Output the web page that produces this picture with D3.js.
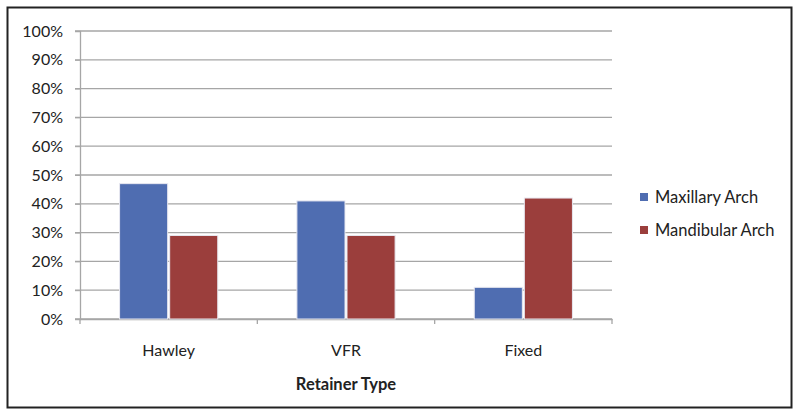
<!DOCTYPE html>
<html><head><meta charset="utf-8">
<script src="https://cdn.jsdelivr.net/npm/d3@7"></script>
<style>body{margin:0;background:#fff}svg{display:block}text{font-family:Lato,"Open Sans",sans-serif;fill:#222}</style>
</head><body><svg id="c" width="800" height="417"></svg>
<script>
const categories = ["Hawley", "VFR", "Fixed"];
const seriesNames = ["Maxillary Arch", "Mandibular Arch"];
const maxillary = [0.47, 0.41, 0.11];
const mandibular = [0.29, 0.29, 0.42];
const yTicks = [0, 0.1, 0.2, 0.3, 0.4, 0.5, 0.6, 0.7, 0.8, 0.9, 1.0];
const colors = ["#4f6db1", "#9b3e3c"];
const xTitle = "Retainer Type";

const svg = d3.select("#c");
svg.append("rect").attr("x", 7.5).attr("y", 7.5).attr("width", 784).attr("height", 400)
  .attr("fill", "#fff").attr("stroke", "#222").attr("stroke-width", 2);

const pLeft = 80, pRight = 612, pTop = 31, pBottom = 319;
const x = d3.scaleBand().domain(categories).range([pLeft, pRight]).paddingInner(0).paddingOuter(0);
const y = d3.scaleLinear().domain([0, 1]).range([pBottom, pTop]);
const xs = d3.scaleBand().domain(seriesNames).range([0, x.bandwidth()]).paddingInner(0.04).paddingOuter(0.79);

// grid
const g = svg.append("g");
g.selectAll("line.grid").data(yTicks).join("line")
  .attr("x1", pLeft - 5).attr("x2", pRight).attr("y1", d => y(d)).attr("y2", d => y(d))
  .attr("stroke", "#a6a6a6").attr("stroke-width", 1.3);

// y axis
const yAxis = svg.append("g").attr("transform", `translate(${pLeft},0)`)
  .call(d3.axisLeft(y).tickValues(yTicks).tickFormat(d3.format(".0%")).tickSize(5).tickPadding(12));
yAxis.select(".domain").attr("stroke", "#a6a6a6").attr("stroke-width", 1.3);
yAxis.selectAll(".tick line").attr("stroke", "#a6a6a6");
yAxis.selectAll("text").style("font-size", "16px").attr("fill", "#222").attr("font-family", "Lato, sans-serif");

// x axis
const xAxis = svg.append("g").attr("transform", `translate(0,${pBottom})`)
  .call(d3.axisBottom(x).tickSize(0).tickPadding(26));
xAxis.select(".domain").attr("stroke", "#a6a6a6").attr("stroke-width", 1.3);
xAxis.selectAll("text").style("font-size", "16px").attr("fill", "#222").attr("font-family", "Lato, sans-serif");
const sepTicks = [0, 1, 2, 3].map(i => pLeft + i * x.bandwidth());
xAxis.selectAll("line.sep").data(sepTicks).join("line").attr("class", "sep")
  .attr("x1", d => d).attr("x2", d => d).attr("y1", 0).attr("y2", 5)
  .attr("stroke", "#a6a6a6").attr("stroke-width", 1.3);

// bars
const data = categories.map((c, i) => ({ c, vals: [maxillary[i], mandibular[i]] }));
const bg = svg.append("g").selectAll("g").data(data).join("g")
  .attr("transform", d => `translate(${x(d.c)},0)`);
bg.selectAll("rect").data(d => d.vals.map((v, j) => ({ v, s: seriesNames[j], j }))).join("rect")
  .attr("x", d => xs(d.s)).attr("width", xs.bandwidth())
  .attr("y", d => y(d.v)).attr("height", d => y(0) - y(d.v))
  .attr("fill", d => colors[d.j]).attr("stroke", "#e8e8f0").attr("stroke-width", 1);

// x title
svg.append("text").attr("x", (pLeft + pRight) / 2).attr("y", 390).attr("text-anchor", "middle")
  .style("font-size", "16.5px").style("font-weight", "bold").text(xTitle);

// legend
const lg = svg.append("g").selectAll("g").data(seriesNames).join("g")
  .attr("transform", (d, i) => `translate(640,${197 + i * 33})`);
lg.append("rect").attr("x", 0).attr("y", -4).attr("width", 8).attr("height", 8)
  .attr("fill", (d, i) => colors[i]);
lg.append("text").attr("x", 15).attr("y", 6).style("font-size", "16.5px").text(d => d);
</script></body></html>
